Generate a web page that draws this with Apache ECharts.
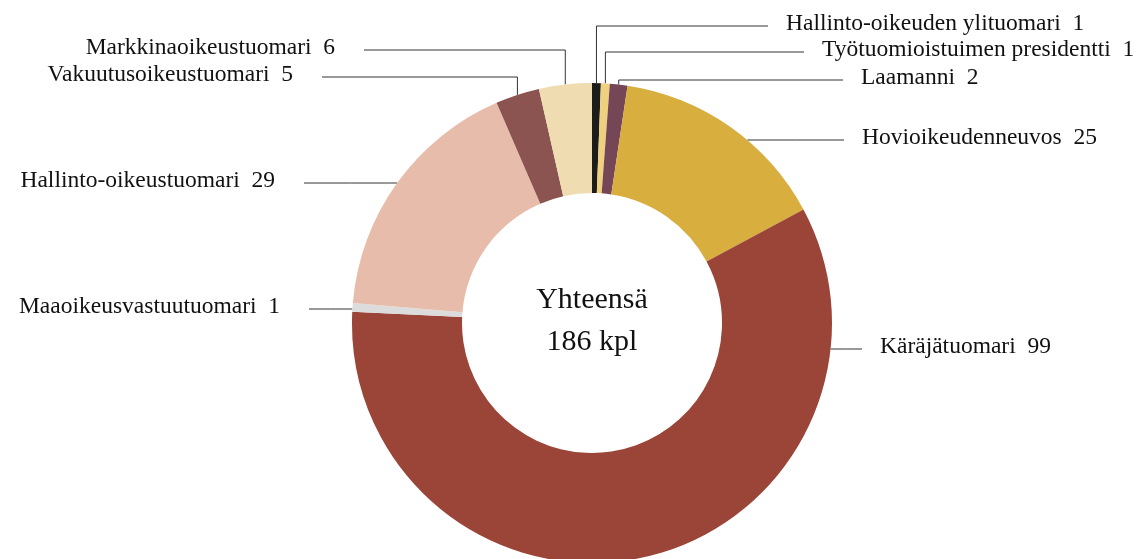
<!DOCTYPE html>
<html>
<head>
    <meta charset="utf-8">
    <title>Tuomarit nimikkeittäin</title>
    <script src="https://cdn.jsdelivr.net/npm/echarts@6/dist/echarts.min.js"></script>
    <style>
        html, body { margin: 0; padding: 0; background: #fff; }
    </style>
</head>
<body>
    <div id="main" style="width: 1145px;height:559px;"></div>

    <script type="text/javascript">

        // nimikkeet ja lukumäärät, myötäpäivään ylhäältä alkaen
        var names = [
            'Hallinto-oikeuden ylituomari',
            'Työtuomioistuimen presidentti',
            'Laamanni',
            'Hovioikeudenneuvos',
            'Käräjätuomari',
            'Maaoikeusvastuutuomari',
            'Hallinto-oikeustuomari',
            'Vakuutusoikeustuomari',
            'Markkinaoikeustuomari'
        ];
        var counts = [1, 1, 2, 25, 99, 1, 29, 5, 6];
        var colors = ['#1c1c1a', '#efd07e', '#744656', '#d8ae3f', '#9b4438',
                      '#dcdcdc', '#e8bcab', '#8b5450', '#efdcb0'];
        var totalText = ['Yhteensä', '186 kpl'];

        // kaavion mitat (px)
        var CX = 592, CY = 323, R_IN = 130, R_OUT = 240;

        // selitteiden paikat: puoli, tekstin reuna (x), viivan korkeus (y), kulmaviiva vai suora
        var spots = [
            { side: 'right', x: 786, y: 26, elbow: true },
            { side: 'right', x: 822, y: 52, elbow: true },
            { side: 'right', x: 861, y: 80, elbow: true },
            { side: 'right', x: 862, y: 140, elbow: false },
            { side: 'right', x: 880, y: 349, elbow: false },
            { side: 'left',  x: 280, y: 309, elbow: false },
            { side: 'left',  x: 275, y: 183, elbow: false },
            { side: 'left',  x: 293, y: 77,  elbow: true },
            { side: 'left',  x: 335, y: 50,  elbow: true }
        ];

        var total = counts.reduce(function (a, b) { return a + b; }, 0);

        function midAngle(i) {
            var before = 0;
            for (var k = 0; k < i; k++) before += counts[k];
            return (before + counts[i] / 2) / total * Math.PI * 2;
        }

        var myChart = echarts.init(document.getElementById('main'));

        var option = {
            animation: false,
            graphic: [{
                type: 'text',
                x: CX,
                y: CY - 2,
                style: {
                    text: totalText.join('\n'),
                    align: 'center',
                    verticalAlign: 'middle',
                    font: '30px "Liberation Serif", serif',
                    lineHeight: 42,
                    fill: '#111'
                }
            }],
            series: [{
                type: 'pie',
                center: [CX, CY],
                radius: [R_IN, R_OUT],
                startAngle: 90,
                clockwise: true,
                silent: true,
                data: names.map(function (n, i) {
                    return { name: n, value: counts[i], itemStyle: { color: colors[i] } };
                }),
                label: {
                    show: true,
                    position: 'outside',
                    formatter: '{b}  {c}',
                    fontFamily: '"Liberation Serif", serif',
                    fontSize: 23.5,
                    color: '#111'
                },
                labelLine: {
                    show: true,
                    lineStyle: { color: '#333', width: 1 }
                },
                labelLayout: function (params) {
                    var s = spots[params.dataIndex];
                    var endX = s.side === 'right' ? s.x - 18 : s.x + 29;
                    var pts;
                    if (s.elbow) {
                        var a = midAngle(params.dataIndex);
                        var px = CX + R_OUT * Math.sin(a);
                        var py = CY - R_OUT * Math.cos(a);
                        pts = [[px, py], [px, s.y], [endX, s.y]];
                    } else {
                        var dx = Math.sqrt(R_OUT * R_OUT - (s.y - CY) * (s.y - CY));
                        var ex = s.side === 'right' ? CX + dx : CX - dx;
                        pts = [[ex, s.y], [(ex + endX) / 2, s.y], [endX, s.y]];
                    }
                    return {
                        x: s.x,
                        y: s.y - 2,
                        align: s.side === 'right' ? 'left' : 'right',
                        verticalAlign: 'middle',
                        labelLinePoints: pts
                    };
                }
            }]
        };

        myChart.setOption(option);
    </script>
</body>
</html>
